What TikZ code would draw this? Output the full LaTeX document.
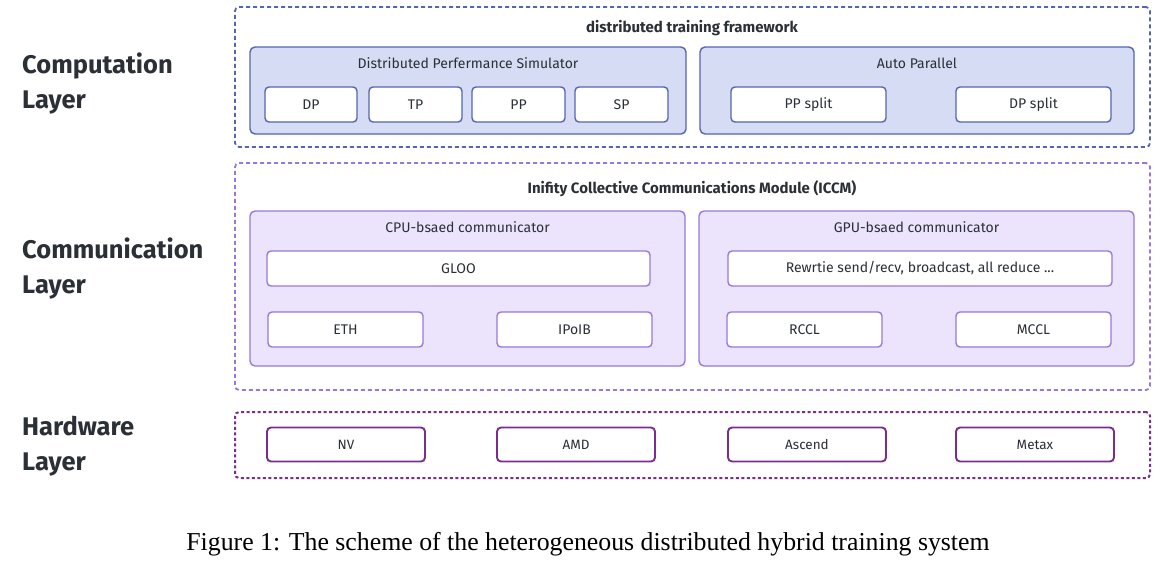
\documentclass[tikz,border=0pt]{standalone}
\usepackage{fontspec}
\setmainfont{Liberation Serif}
\newfontfamily\diagfont{Fira Sans}
\usetikzlibrary{positioning}
\definecolor{bluebd}{HTML}{5565B0}
\definecolor{bluefill}{HTML}{D6DCF3}
\definecolor{purbd}{HTML}{9878DA}
\definecolor{purfill}{HTML}{ECE4FD}
\definecolor{hwbd}{HTML}{7B2C91}
\definecolor{txt}{HTML}{2B2F36}
\tikzset{
  x=1pt, y=-1pt,
  box/.style={draw, rounded corners=4pt, inner sep=0pt, outer sep=0pt, text=txt,
    font=\diagfont\fontsize{14}{16}\selectfont},
  outerbox/.style={box, rounded corners=4pt, line width=1.8pt, dash pattern=on 4pt off 3pt, fill=none},
  groupbox/.style={box, rounded corners=5pt, line width=1.4pt},
  leafbox/.style={box, fill=white, line width=1.4pt, minimum height=35pt},
  hwleaf/.style={leafbox, draw=hwbd, line width=1.9pt, minimum width=158pt, minimum height=34pt,
    font=\diagfont\fontsize{13.5}{15}\selectfont},
  title/.style={inner sep=0pt, text=txt, font=\diagfont\fontsize{14}{16}\selectfont},
  btitle/.style={inner sep=0pt, text=txt, font=\diagfont\bfseries\fontsize{15}{17}\selectfont},
  layerlabel/.style={inner sep=0pt, anchor=west, text=txt, align=left,
    font=\diagfont\bfseries\fontsize{25.5}{35}\selectfont},
}
\begin{document}
\begin{tikzpicture}
\useasboundingbox[fill=white] (0,0) rectangle (1164,566);

% layer labels
\node[layerlabel] (lc) at (22,83) {Computation\\Layer};
\node[layerlabel] (lm) at (22,268) {Communication\\Layer};
\node[layerlabel] (lh) at (22,446) {Hardware\\Layer};

% computation layer
\node[outerbox, draw=bluebd, minimum width=915pt, minimum height=140pt] (comp) at (692.5,77) {};
\node[btitle] (compt) at (692,28) {distributed training framework};
\node[groupbox, draw=bluebd, fill=bluefill, minimum width=436pt, minimum height=87pt] (dps) at (468,90.5) {};
\node[title] (dpst) at (468,63.5) {Distributed Perfermance Simulator};
\node[leafbox, draw=bluebd, minimum width=92pt] (dp) at (311,104.5) {DP};
\node[leafbox, draw=bluebd, minimum width=93pt] (tp) at (415.5,104.5) {TP};
\node[leafbox, draw=bluebd, minimum width=93pt] (pp) at (518.5,104.5) {PP};
\node[leafbox, draw=bluebd, minimum width=93pt] (sp) at (621.5,104.5) {SP};
\node[groupbox, draw=bluebd, fill=bluefill, minimum width=434pt, minimum height=87pt] (ap) at (917,90.5) {};
\node[title] (apt) at (917,63.5) {Auto Parallel};
\node[leafbox, draw=bluebd, minimum width=155pt] (pps) at (808.5,104.5) {PP split};
\node[leafbox, draw=bluebd, minimum width=155pt] (dps2) at (1033.5,104.5) {DP split};

% communication layer
\node[outerbox, draw=purbd, minimum width=915pt, minimum height=227pt] (comm) at (692.5,276.5) {};
\node[btitle] (commt) at (692,188.5) {Inifity Collective Communications Module (ICCM)};
\node[groupbox, draw=purbd, fill=purfill, minimum width=435pt, minimum height=155pt] (cpu) at (467.5,288.5) {};
\node[title] (cput) at (467.5,227.5) {CPU-bsaed communicator};
\node[leafbox, draw=purbd, minimum width=383pt] (gloo) at (458.5,268.5) {GLOO};
\node[leafbox, draw=purbd, minimum width=155pt] (eth) at (345.5,329.5) {ETH};
\node[leafbox, draw=purbd, minimum width=155pt] (ipoib) at (574.5,329.5) {IPoIB};
\node[groupbox, draw=purbd, fill=purfill, minimum width=435pt, minimum height=155pt] (gpu) at (916.5,288.5) {};
\node[title] (gput) at (916.5,227.5) {GPU-bsaed communicator};
\node[leafbox, draw=purbd, minimum width=384pt] (rw) at (920,268.5) {Rewrtie send/recv, broadcast, all reduce ...};
\node[leafbox, draw=purbd, minimum width=155pt] (rccl) at (804.5,329.5) {RCCL};
\node[leafbox, draw=purbd, minimum width=155pt] (mccl) at (1033.5,329.5) {MCCL};

% hardware layer
\node[box, rounded corners=4pt, draw=hwbd, line width=2pt, dash pattern=on 3pt off 2.5pt, minimum width=915pt, minimum height=66pt] (hw) at (692.5,445) {};
\node[hwleaf] (nv) at (346,444.5) {NV};
\node[hwleaf] (amd) at (576,444.5) {AMD};
\node[hwleaf] (asc) at (807,444.5) {Ascend};
\node[hwleaf] (mx) at (1035,444.5) {Metax};

% caption
\node[inner sep=0pt, font=\fontsize{25.8}{28}\selectfont] (cap) at (588,544) {Figure 1: The scheme of the heterogeneous distributed hybrid training system};
\end{tikzpicture}
\end{document}
